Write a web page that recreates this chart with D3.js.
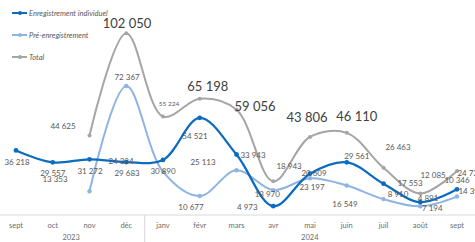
<!DOCTYPE html>
<html>
<head>
<meta charset="utf-8">
<script src="https://cdn.jsdelivr.net/npm/d3@7"></script>
<style>
  body { margin: 0; background: #fff; }
  svg text { font-family: Lato, "Open Sans", sans-serif; }
</style>
</head>
<body>
<svg id="svg" width="475" height="242"></svg>
<script>
// categories (month, year group)
var months = ["sept", "oct", "nov", "déc", "janv", "févr", "mars", "avr", "mai", "juin", "juil", "août", "sept"];
var years = [{ label: "2023", from: 0, to: 3 }, { label: "2024", from: 4, to: 12 }];

// series values (null = no point)
var individuel = [36218, 29557, 31272, 29683, 30890, 54521, 33943, 4973, 23197, 29561, 17553, 7194, 14390];
var preEnreg = [null, null, 13353, 72367, 24334, 10677, 25113, 13970, 20609, 16549, 8910, 4891, 10346];
var total = [null, null, 44625, 102050, 55224, 65198, 59056, 18943, 43806, 46110, 26463, 12085, 24736];

// label placement (offset from point, px) - excel labels were moved by hand
var offInd = [[1, 11.5], [0, 10.7], [0.5, 11.7], [0.8, 10.9], [0, 11], [-4.8, 18], [16.5, 0.5], [-26, 1], [2, 13.3], [10, -6], [26.5, -0.7], [12, 6], [14, 1.6]];
var offPre = [null, null, [-34.5, -12], [0.8, -9], [-42, -10.6], [-8.8, 11], [-33.5, -8.3], [-6, 4], [4, -5], [-1.8, 18.5], [14.5, -5], [7.8, -8], [0, -16.6]];
var offTot = [null, null, [-26.5, -9.5], [0.8, -10], [6, -12.6], [8, -12], [18.5, -3.8], [15.8, -15], [-3, -19], [10, -16], [14.5, -21], [12.8, -18.5], [13, 2]];
var sizeTot = [0, 0, 8, 13, 6.5, 13, 13, 8, 13, 13, 8, 8, 8];

var svg = d3.select("#svg");

var x = d3.scalePoint().domain(d3.range(months.length)).range([16, 457]);
var y = d3.scaleLinear().domain([0, 110000]).range([215, 19]);
var step = x.step();

var fmt = function (v) { return d3.format(",")(v).replace(/,/g, " "); };

// axis line + separators
svg.append("line")
  .attr("x1", 0).attr("x2", 475)
  .attr("y1", y(0)).attr("y2", y(0))
  .attr("stroke", "#d9d9d9").attr("stroke-width", 1);

svg.append("line")
  .attr("x1", x(4) - step / 2).attr("x2", x(4) - step / 2)
  .attr("y1", y(0)).attr("y2", 242)
  .attr("stroke", "#d9d9d9").attr("stroke-width", 1);

svg.selectAll(".month")
  .data(months)
  .enter().append("text")
  .attr("x", function (d, i) { return x(i); })
  .attr("y", 228)
  .attr("text-anchor", "middle")
  .attr("font-size", 7.5)
  .attr("fill", "#6d6d6d")
  .text(function (d) { return d; });

svg.selectAll(".year")
  .data(years)
  .enter().append("text")
  .attr("x", function (d) { return (x(d.from) - step / 2 + Math.min(475, x(d.to) + step / 2)) / 2; })
  .attr("y", 240)
  .attr("text-anchor", "middle")
  .attr("font-size", 7.5)
  .attr("fill", "#6d6d6d")
  .text(function (d) { return d.label; });

var line = d3.line()
  .defined(function (d) { return d != null; })
  .x(function (d, i) { return x(i); })
  .y(function (d) { return y(d); })
  .curve(d3.curveCatmullRom.alpha(0.5));

var series = [
  { values: total, color: "#a5a5a5", width: 2, r: 2, off: offTot },
  { values: preEnreg, color: "#8db4e2", width: 2, r: 2.2, off: offPre },
  { values: individuel, color: "#0b6cbf", width: 2.25, r: 2.4, off: offInd }
];

series.forEach(function (s) {
  svg.append("path")
    .attr("d", line(s.values))
    .attr("fill", "none")
    .attr("stroke", s.color)
    .attr("stroke-width", s.width);

  s.values.forEach(function (v, i) {
    if (v == null) return;
    svg.append("circle")
      .attr("cx", x(i)).attr("cy", y(v))
      .attr("r", s.r)
      .attr("fill", s.color);
  });
});

// data labels
series.forEach(function (s) {
  s.values.forEach(function (v, i) {
    if (v == null) return;
    var fs = s.values === total ? sizeTot[i] : 8;
    svg.append("text")
      .attr("x", x(i) + s.off[i][0])
      .attr("y", y(v) + s.off[i][1])
      .attr("dy", "0.35em")
      .attr("text-anchor", "middle")
      .attr("font-size", fs)
      .attr("fill", fs > 10 ? "#404040" : "#595959")
      .text(fmt(v));
  });
});

// legend
var legend = [
  { name: "Enregistrement individuel", color: "#0b6cbf", y: 13 },
  { name: "Pré-enregistrement", color: "#8db4e2", y: 35 },
  { name: "Total", color: "#a5a5a5", y: 57 }
];

legend.forEach(function (d) {
  svg.append("line")
    .attr("x1", 12).attr("x2", 27)
    .attr("y1", d.y).attr("y2", d.y)
    .attr("stroke", d.color).attr("stroke-width", 2);
  svg.append("circle")
    .attr("cx", 20).attr("cy", d.y).attr("r", 2)
    .attr("fill", d.color);
  svg.append("text")
    .attr("x", 29).attr("y", d.y)
    .attr("dy", "0.35em")
    .attr("font-size", 7.5)
    .attr("font-style", "italic")
    .attr("fill", "#595959")
    .text(d.name);
});
</script>
</body>
</html>
